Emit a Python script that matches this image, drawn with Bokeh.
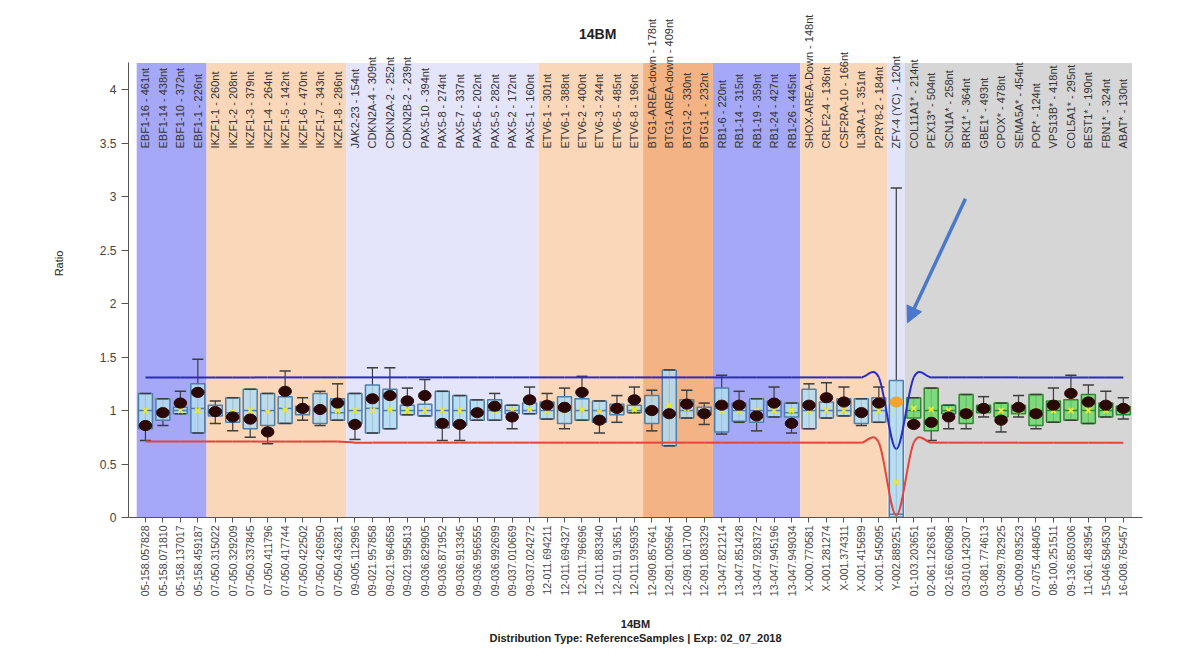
import math

from bokeh.plotting import figure
from bokeh.models import (ColumnDataSource, FixedTicker, Range1d, Title, LabelSet, Label,
                          Arrow, NormalHead)
from bokeh.core.properties import value
from bokeh.embed import file_html
from bokeh.resources import INLINE

FONT = "Liberation Sans"

# ---- probes (top labels) and genomic positions (x tick labels) ----
probe_labels = [
    "EBF1-16 - 461nt", "EBF1-14 - 438nt", "EBF1-10 - 372nt", "EBF1-1 - 226nt",
    "IKZF1-1 - 260nt", "IKZF1-2 - 208nt", "IKZF1-3 - 379nt", "IKZF1-4 - 264nt",
    "IKZF1-5 - 142nt", "IKZF1-6 - 470nt", "IKZF1-7 - 343nt", "IKZF1-8 - 286nt",
    "JAK2-23 - 154nt", "CDKN2A-4 - 309nt", "CDKN2A-2 - 252nt", "CDKN2B-2 - 239nt",
    "PAX5-10 - 394nt", "PAX5-8 - 274nt", "PAX5-7 - 337nt", "PAX5-6 - 202nt",
    "PAX5-5 - 282nt", "PAX5-2 - 172nt", "PAX5-1 - 160nt",
    "ETV6-1 - 301nt", "ETV6-1 - 388nt", "ETV6-2 - 400nt", "ETV6-3 - 244nt",
    "ETV6-5 - 485nt", "ETV6-8 - 196nt",
    "BTG1-AREA-down - 178nt", "BTG1-AREA-down - 409nt", "BTG1-2 - 330nt", "BTG1-1 - 232nt",
    "RB1-6 - 220nt", "RB1-14 - 315nt", "RB1-19 - 359nt", "RB1-24 - 427nt", "RB1-26 - 445nt",
    "SHOX-AREA-Down - 148nt", "CRLF2-4 - 136nt", "CSF2RA-10 - 166nt", "IL3RA-1 - 351nt",
    "P2RY8-2 - 184nt",
    "ZFY-4 (YC) - 120nt",
    "COL11A1* - 214nt", "PEX13* - 504nt", "SCN1A* - 258nt", "BRK1* - 364nt",
    "GBE1* - 493nt", "CPOX* - 478nt", "SEMA5A* - 454nt", "POR* - 124nt",
    "VPS13B* - 418nt", "COL5A1* - 295nt", "BEST1* - 190nt", "FBN1* - 324nt",
    "ABAT* - 130nt",
]

positions = [
    "05-158.057828", "05-158.071810", "05-158.137017", "05-158.459187",
    "07-050.315022", "07-050.329209", "07-050.337845", "07-050.411796",
    "07-050.417744", "07-050.422502", "07-050.426950", "07-050.436281",
    "09-005.112996", "09-021.957858", "09-021.964658", "09-021.995813",
    "09-036.829905", "09-036.871952", "09-036.913345", "09-036.956555",
    "09-036.992699", "09-037.010669", "09-037.024272",
    "12-011.694211", "12-011.694327", "12-011.796696", "12-011.883340",
    "12-011.913651", "12-011.935935",
    "12-090.857641", "12-091.005964", "12-091.061700", "12-091.083329",
    "13-047.821214", "13-047.851428", "13-047.928372", "13-047.945196", "13-047.949034",
    "X-000.770581", "X-001.281274", "X-001.374311", "X-001.415699", "X-001.545095",
    "Y-002.889251",
    "01-103.203651", "02-061.126361", "02-166.606098", "03-010.142307",
    "03-081.774613", "03-099.782925", "05-009.093523", "07-075.448405",
    "08-100.251511", "09-136.850306", "11-061.483954", "15-046.584530",
    "16-008.765457",
]

# probe groups: size, band colour, box style
group_sizes = [4, 8, 11, 6, 4, 5, 5, 1, 13]
group_bands = ["#a5a8f6", "#fad7b9", "#e4e4fa", "#fad7b9", "#f4b384",
               "#a5a8f6", "#fad7b9", "#e2e5f9", "#d6d6d6"]
group_reference = [True, True, True, True, True, True, True, True, False]

# ---- reference distribution per probe ----
whisker_low = [0.72, 0.86, 0.97, 0.79, 0.88, 0.81, 0.75, 0.69, 0.88, 0.91, 0.86, 0.91,
               0.73, 0.79, 0.83, 0.96, 0.95, 0.72, 0.72, 0.91, 0.91, 0.83, 0.97,
               0.92, 0.83, 0.91, 0.79, 0.89, 0.98,
               0.81, 0.67, 0.93, 0.87,
               0.78, 0.89, 0.81, 0.94, 0.79,
               0.83, 0.93, 0.95, 0.86, 0.89,
               0.00,
               0.85, 0.72, 0.83, 0.83, 0.94, 0.80, 0.94, 0.83, 0.89, 0.91, 0.88, 0.94, 0.92]
quartile_1 = [0.83, 0.91, 0.97, 0.79, 0.95, 0.89, 0.83, 0.86, 0.88, 0.96, 0.88, 0.91,
              0.88, 0.79, 0.83, 0.96, 0.95, 0.84, 0.86, 0.91, 0.91, 0.97, 0.97,
              0.92, 0.88, 0.91, 0.89, 0.96, 0.98,
              0.88, 0.67, 0.93, 0.96,
              0.80, 0.90, 0.89, 0.94, 0.94,
              0.83, 0.93, 0.95, 0.88, 0.89,
              0.00,
              0.93, 0.81, 0.97, 0.88, 0.98, 0.94, 0.97, 0.86, 0.89, 0.91, 0.88, 0.94, 0.96]
medians = [1.00, 1.00, 1.00, 1.02, 1.00, 0.98, 1.00, 1.00, 1.02, 1.00, 1.00, 0.98,
           1.00, 1.02, 1.00, 1.00, 1.00, 1.00, 1.00, 0.98, 1.00, 1.00, 1.00,
           1.00, 1.00, 1.00, 1.00, 1.00, 1.00,
           1.00, 0.98, 1.00, 1.00,
           1.02, 1.00, 1.00, 1.00, 0.98,
           1.00, 1.00, 1.00, 1.00, 1.00,
           0.03,
           1.00, 1.00, 1.00, 1.00, 1.00, 1.00, 1.00, 1.00, 1.00, 1.00, 1.00, 1.00, 1.00]
means = [1.00, 0.99, 1.00, 1.00, 0.99, 0.99, 1.00, 0.99, 1.01, 1.00, 1.00, 1.00,
         1.00, 1.00, 1.01, 1.00, 1.00, 1.00, 1.00, 0.99, 1.00, 1.00, 1.01,
         1.00, 1.00, 1.01, 0.99, 1.00, 1.01,
         1.00, 1.05, 1.02, 1.00,
         1.00, 1.00, 1.00, 1.00, 1.00,
         1.00, 1.00, 1.00, 1.00, 1.00,
         0.33,
         1.02, 1.01, 1.00, 1.00, 1.01, 1.00, 1.00, 1.00, 1.00, 1.00, 1.00, 1.00, 1.00]
quartile_3 = [1.16, 1.11, 1.03, 1.25, 1.05, 1.12, 1.20, 1.16, 1.13, 1.04, 1.16, 1.11,
              1.16, 1.24, 1.20, 1.05, 1.06, 1.18, 1.14, 1.10, 1.10, 1.05, 1.07,
              1.08, 1.13, 1.11, 1.09, 1.06, 1.05,
              1.14, 1.38, 1.10, 1.03,
              1.21, 1.07, 1.11, 1.09, 1.07,
              1.20, 1.08, 1.11, 1.11, 1.12,
              1.28,
              1.12, 1.21, 1.05, 1.15, 1.05, 1.07, 1.05, 1.15, 1.09, 1.10, 1.15, 1.07, 1.04]
whisker_high = [1.16, 1.11, 1.18, 1.48, 1.09, 1.12, 1.20, 1.16, 1.37, 1.12, 1.18, 1.25,
                1.16, 1.40, 1.40, 1.21, 1.29, 1.18, 1.14, 1.10, 1.16, 1.05, 1.22,
                1.16, 1.21, 1.32, 1.09, 1.14, 1.22,
                1.19, 1.38, 1.19, 1.07,
                1.33, 1.18, 1.11, 1.22, 1.07,
                1.25, 1.26, 1.22, 1.11, 1.22,
                3.08,
                1.12, 1.21, 1.05, 1.15, 1.13, 1.07, 1.14, 1.15, 1.21, 1.33, 1.24, 1.18, 1.12]

# ---- sample ratio per probe ----
sample_ratio = [0.86, 0.98, 1.07, 1.17, 0.99, 0.94, 0.92, 0.80, 1.18, 1.02, 1.01, 1.07,
                0.87, 1.11, 1.14, 1.09, 1.14, 0.88, 0.87, 0.98, 1.04, 0.94, 1.10,
                1.05, 1.03, 1.17, 0.91, 1.02, 1.10,
                1.00, 0.97, 1.06, 0.97,
                1.05, 1.05, 0.95, 1.07, 0.88,
                1.05, 1.12, 1.08, 0.98, 1.07,
                1.08,
                0.87, 0.89, 0.94, 0.97, 1.02, 0.91, 1.03, 0.97, 1.05, 1.16, 1.08, 1.05, 1.02]

# ---- acceptance limits per probe ----
upper_limit = [1.31] * 43 + [0.64] + [1.31] * 13
lower_limit = [0.71] * 12 + [0.70] * 31 + [0.02] + [0.70] * 13

x_ticks = list(range(len(positions)))
y_ticks = [0, 0.5, 1, 1.5, 2, 2.5, 3, 3.5, 4]
y_tick_labels = ["0", "0.5", "1", "1.5", "2", "2.5", "3", "3.5", "4"]

PANEL_TOP = 4.25   # top of the shaded group bands

n = len(positions)
xs = list(range(n))

# frame extends above the bands so the long probe names are not cut off
p = figure(width=1187, height=661, title=None,
           x_range=Range1d(-0.97, 57.1), y_range=Range1d(0, 4.75),
           output_backend="svg", toolbar_location=None,
           min_border_left=128, min_border_right=45,
           min_border_top=9, min_border_bottom=144)
p.outline_line_color = None
p.xgrid.visible = False
p.ygrid.visible = False
p.background_fill_color = "white"
p.border_fill_color = "white"

# ---- group background bands ----
band_left, band_right, band_color = [], [], []
start = 0
for size, color in zip(group_sizes, group_bands):
    band_left.append(start - 0.5)
    band_right.append(start + size - 0.5)
    band_color.append(color)
    start += size
p.quad(left=band_left, right=band_right, bottom=0, top=PANEL_TOP,
       fill_color=band_color, line_color=None)

# ---- box plots ----
box_fill, box_line = [], []
for size, ref in zip(group_sizes, group_reference):
    box_fill += (["#b2dcf1"] if ref else ["#6ed86e"]) * size
    box_line += (["#4f7fa6"] if ref else ["#2f8a2f"]) * size

src = ColumnDataSource(dict(
    x=xs, lo=whisker_low, q1=quartile_1, med=medians, mean=means, q3=quartile_3,
    hi=whisker_high, dot=sample_ratio, fill=box_fill, line=box_line,
    cap_l=[x - 0.32 for x in xs], cap_r=[x + 0.32 for x in xs],
    box_l=[x - 0.4 for x in xs], box_r=[x + 0.4 for x in xs],
))

p.segment(x0="x", y0="lo", x1="x", y1="hi", source=src, line_color="#3c3c3c", line_width=1.2)
p.vbar(x="x", width=0.8, bottom="q1", top="q3", source=src,
       fill_color="fill", fill_alpha=0.85, line_color="line", line_width=1.5)
p.segment(x0="box_l", y0="med", x1="box_r", y1="med", source=src, line_color="line", line_width=1.5)
p.segment(x0="cap_l", y0="hi", x1="cap_r", y1="hi", source=src, line_color="#3c3c3c", line_width=1.5)
p.segment(x0="cap_l", y0="lo", x1="cap_r", y1="lo", source=src, line_color="#3c3c3c", line_width=1.5)


# ---- limit curves (smooth Catmull-Rom through per-probe limits) ----
def smooth_curve(vals, color):
    k = len(vals)
    slopes = []
    for i in range(k):
        a = vals[max(i - 1, 0)]
        b = vals[min(i + 1, k - 1)]
        slopes.append((b - a) / (min(i + 1, k - 1) - max(i - 1, 0)))
    seg = dict(x0=[], y0=[], x1=[], y1=[], cx0=[], cy0=[], cx1=[], cy1=[])
    for i in range(k - 1):
        seg["x0"].append(i)
        seg["y0"].append(vals[i])
        seg["x1"].append(i + 1)
        seg["y1"].append(vals[i + 1])
        seg["cx0"].append(i + 1 / 3)
        seg["cy0"].append(vals[i] + slopes[i] / 3)
        seg["cx1"].append(i + 2 / 3)
        seg["cy1"].append(vals[i + 1] - slopes[i + 1] / 3)
    p.bezier(source=ColumnDataSource(seg), x0="x0", y0="y0", x1="x1", y1="y1",
             cx0="cx0", cy0="cy0", cx1="cx1", cy1="cy1", line_color=color, line_width=2)


smooth_curve(upper_limit, "#2b2bc4")
smooth_curve(lower_limit, "#e2453c")

# ---- mean markers and sample dots ----
p.scatter(x="x", y="mean", source=src, marker="x", size=7, line_color="#e8e832", line_width=2)

dot_color = ["#2a0808"] * n
dot_color[positions.index("Y-002.889251")] = "#f3a42a"
src.data["dot_color"] = dot_color
p.ellipse(x="x", y="dot", width=0.72, height=0.095, source=src,
          fill_color="dot_color", line_color="dot_color")

# ---- probe names ----
label_src = ColumnDataSource(dict(x=xs, y=[3.45] * n, text=probe_labels))
p.add_layout(LabelSet(x="x", y="y", text="text", source=label_src, angle=math.pi / 2,
                      text_align="left", text_baseline="middle", text_font=value(FONT),
                      text_font_size="11px", text_color="#333333"))

# ---- chart title, placed over the page centre ----
p.add_layout(Label(x=25.9, y=4.52, text="14BM", text_align="center", text_baseline="middle",
                   text_font=FONT, text_font_size="14px", text_font_style="bold",
                   text_color="#222222"))

# ---- arrow pointing at the Y probe ----
p.add_layout(Arrow(end=NormalHead(size=16, fill_color="#4a78cc", line_color="#4a78cc"),
                   x_start=46.96, y_start=2.98, x_end=43.64, y_end=1.82,
                   line_color="#4a78cc", line_width=3.5))

# ---- axes ----
xa = p.xaxis[0]
xa.ticker = FixedTicker(ticks=x_ticks)
xa.major_label_overrides = {i: lab for i, lab in zip(x_ticks, positions)}
xa.major_label_orientation = math.pi / 2
xa.major_label_text_font = FONT
xa.major_label_text_font_size = "10.5px"
xa.major_label_text_color = "#444444"
xa.major_tick_in = 0
xa.major_tick_out = 5
xa.minor_tick_line_color = None
xa.axis_line_color = "#555555"
xa.major_tick_line_color = "#555555"
xa.major_label_standoff = 3
xa.axis_label = "14BM"
xa.axis_label_text_font = FONT
xa.axis_label_text_font_size = "11px"
xa.axis_label_text_font_style = "bold"
xa.axis_label_text_color = "#222222"
xa.axis_label_standoff = 19

ya = p.yaxis[0]
ya.bounds = (0, PANEL_TOP)
ya.ticker = FixedTicker(ticks=y_ticks)
ya.major_label_overrides = {t: s for t, s in zip(y_ticks, y_tick_labels)}
ya.major_label_text_font = FONT
ya.major_label_text_font_size = "12px"
ya.major_label_text_color = "#444444"
ya.major_tick_in = 0
ya.major_tick_out = 7
ya.minor_tick_line_color = None
ya.axis_line_color = "#555555"
ya.major_tick_line_color = "#555555"
ya.axis_label = "Ratio"
ya.axis_label_text_font = FONT
ya.axis_label_text_font_size = "11px"
ya.axis_label_text_font_style = "normal"
ya.axis_label_text_color = "#222222"
ya.axis_label_standoff = 32

p.add_layout(Title(text="Distribution Type: ReferenceSamples | Exp: 02_07_2018", align="center",
                   text_font=FONT, text_font_size="11px", text_font_style="bold",
                   text_color="#222222", standoff=-7), "below")

open("out.html", "w").write(file_html(p, INLINE))
